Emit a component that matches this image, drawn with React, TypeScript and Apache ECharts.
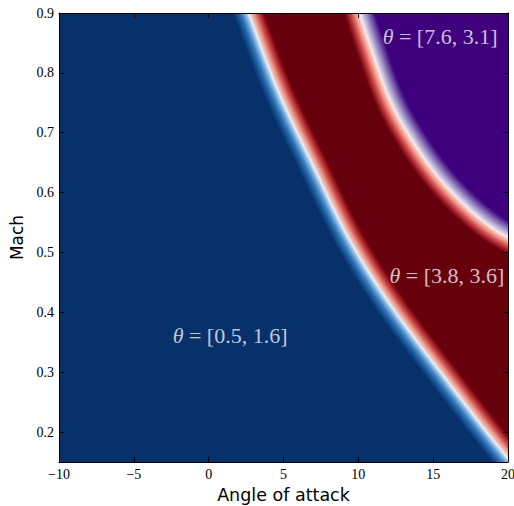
import React, { useEffect, useRef } from "react";
import * as echarts from "echarts";

// ---- data ----
const xTicks = [-10, -5, 0, 5, 10, 15, 20];
const yTicks = [0.2, 0.3, 0.4, 0.5, 0.6, 0.7, 0.8, 0.9];
const xRange = [-10, 20];
const yRange = [0.15, 0.9];

// decision boundary between class 1 (blue) and class 2 (red): [angle, mach]
const boundaryBlueRed = [
  [2.09, 0.938], [2.69, 0.9], [4.64, 0.771], [7.04, 0.643], [9.44, 0.521],
  [12.18, 0.412], [15.92, 0.287], [19.73, 0.165], [21.47, 0.12],
];
// decision boundary between class 2 (red) and class 3 (purple)
const boundaryRedPurple = [
  [9.84, 0.938], [10.11, 0.9], [10.91, 0.838], [12.12, 0.755], [13.59, 0.688],
  [15.26, 0.629], [17.13, 0.579], [18.8, 0.544], [20.13, 0.524], [21.8, 0.504],
];

const labelTexts = ["[0.5, 1.6]", "[3.8, 3.6]", "[7.6, 3.1]"];
const labelX = [1.43, 15.92, 15.46];
const labelY = [0.362, 0.462, 0.86];

// ---- styles ----
const BLUE = "#08306b";
const RED = "#67000d";
const PURPLE = "#3f007d";
const BAND_W = 15;
const blueRedStops: [number, string][] = [
  [-15, "#08306b"], [-12, "#0f4a8a"], [-8, "#2a6fb0"], [-5, "#5e97cc"],
  [-2, "#a8c8e4"], [0, "#eef0f4"], [2, "#f6c0b4"], [5, "#ec8f82"],
  [8, "#cf5050"], [12, "#9a1a22"], [15, "#67000d"],
];
const redPurpleStops: [number, string][] = [
  [-15, "#67000d"], [-12, "#9a1a22"], [-8, "#cf5050"], [-5, "#ec8f82"],
  [-2, "#f6c0b4"], [0, "#f2eef4"], [2, "#d8d0e8"], [5, "#b0a3d2"],
  [8, "#8a74b8"], [12, "#5e309a"], [15, "#3f007d"],
];

function hexToRgb(h: string) {
  const n = parseInt(h.slice(1), 16);
  return [(n >> 16) & 255, (n >> 8) & 255, n & 255];
}
function rampColor(stops: [number, string][], d: number) {
  if (d <= stops[0][0]) return stops[0][1];
  for (let i = 0; i < stops.length - 1; i++) {
    const [d0, c0] = stops[i];
    const [d1, c1] = stops[i + 1];
    if (d >= d0 && d <= d1) {
      const t = (d - d0) / (d1 - d0);
      const a = hexToRgb(c0), b = hexToRgb(c1);
      const c = a.map((v, j) => Math.round(v + (b[j] - v) * t));
      return `rgb(${c[0]},${c[1]},${c[2]})`;
    }
  }
  return stops[stops.length - 1][1];
}

// smooth the pixel-space outline for drawing (like a line's smooth option)
function smoothPath(pts: number[][], n = 12) {
  const out: number[][] = [];
  for (let i = 0; i < pts.length - 1; i++) {
    const p0 = pts[Math.max(i - 1, 0)], p1 = pts[i], p2 = pts[i + 1];
    const p3 = pts[Math.min(i + 2, pts.length - 1)];
    for (let k = 0; k < n; k++) {
      const t = k / n, t2 = t * t, t3 = t2 * t;
      out.push([0, 1].map((j) =>
        0.5 * (2 * p1[j] + (-p0[j] + p2[j]) * t +
          (2 * p0[j] - 5 * p1[j] + 4 * p2[j] - p3[j]) * t2 +
          (-p0[j] + 3 * p1[j] - 3 * p2[j] + p3[j]) * t3)));
    }
  }
  out.push(pts[pts.length - 1]);
  return out;
}
function offsetPath(pts: number[][], d: number) {
  return pts.map((p, i) => {
    const a = pts[Math.max(i - 2, 0)], b = pts[Math.min(i + 2, pts.length - 1)];
    const dx = b[0] - a[0], dy = b[1] - a[1];
    const len = Math.hypot(dx, dy) || 1;
    return [p[0] + (d * dy) / len, p[1] - (d * dx) / len];
  });
}

const fmtX = (v: number) => (v < 0 ? "\u2212" + Math.abs(v) : String(v));
const fmtY = (v: number) => v.toFixed(1);

export default function App() {
  const ref = useRef<HTMLDivElement>(null);
  useEffect(() => {
    if (!ref.current) return;
    const chart = echarts.init(ref.current, null, { renderer: "svg" });

    const renderItem = (params: any, api: any) => {
      const cs = params.coordSys;
      const L = cs.x, T = cs.y, R = cs.x + cs.width;
      const b1 = smoothPath(boundaryBlueRed.map((p) => api.coord(p)));
      const b2 = smoothPath(boundaryRedPurple.map((p) => api.coord(p)));
      const children: any[] = [];
      children.push({ type: "rect", shape: { x: L, y: T, width: cs.width, height: cs.height }, style: { fill: BLUE } });
      const poly = (b: number[][]) => [
        ...b,
        [R + 80, b[b.length - 1][1]],
        [R + 80, T - 80],
        [b[0][0], T - 80],
      ];
      children.push({ type: "polygon", shape: { points: poly(b1) }, style: { fill: RED } });
      children.push({ type: "polygon", shape: { points: poly(b2) }, style: { fill: PURPLE } });
      const band = (b: number[][], stops: [number, string][]) => {
        for (let d = -BAND_W; d <= BAND_W; d += 1) {
          children.push({
            type: "polyline",
            shape: { points: offsetPath(b, d) },
            style: { stroke: rampColor(stops, d), lineWidth: 1.7, fill: null },
          });
        }
      };
      band(b1, blueRedStops);
      band(b2, redPurpleStops);
      return { type: "group", children };
    };

    const serif = "'Liberation Serif', 'DejaVu Serif', serif";
    const sans = "'DejaVu Sans', sans-serif";
    const axisLine = { show: true, onZero: false, lineStyle: { color: "#000", width: 1 } };
    const tick = { show: true, inside: true, length: 5, lineStyle: { color: "#000", width: 1 } };

    chart.setOption({
      animation: false,
      backgroundColor: "#fff",
      grid: { left: 59, top: 13, width: 449, height: 449, containLabel: false, outerBoundsMode: "none" },
      xAxis: [
        {
          type: "value", min: xRange[0], max: xRange[1], interval: 5, position: "bottom", z: 10,
          axisLine, axisTick: tick, splitLine: { show: false },
          axisLabel: { formatter: fmtX, fontFamily: serif, fontSize: 14, color: "#000", margin: 5 },
          name: "Angle of attack", nameLocation: "middle", nameGap: 20,
          nameTextStyle: { fontFamily: sans, fontSize: 17.5, color: "#000" },
        },
        {
          type: "value", min: xRange[0], max: xRange[1], interval: 5, position: "top", z: 10,
          axisLine, axisTick: tick, splitLine: { show: false }, axisLabel: { show: false },
        },
      ],
      yAxis: [
        {
          type: "value", min: yRange[0], max: yRange[1], position: "left", z: 10,
          axisLine, axisTick: { ...tick, customValues: yTicks }, splitLine: { show: false },
          axisLabel: { customValues: yTicks, formatter: fmtY, fontFamily: serif, fontSize: 14, color: "#000", margin: 5 },
          name: "Mach", nameLocation: "middle", nameGap: 25,
          nameTextStyle: { fontFamily: sans, fontSize: 17, color: "#000" },
        },
        {
          type: "value", min: yRange[0], max: yRange[1], position: "right", z: 10,
          axisLine, axisTick: { ...tick, customValues: yTicks }, splitLine: { show: false },
          axisLabel: { show: false, customValues: yTicks },
        },
      ],
      series: [
        {
          type: "custom", xAxisIndex: 0, yAxisIndex: 0, clip: true, z: 1,
          data: [[xRange[0], yRange[0]]],
          renderItem,
          silent: true,
        },
        {
          type: "scatter", xAxisIndex: 0, yAxisIndex: 0, z: 5, silent: true,
          symbolSize: 1, itemStyle: { color: "rgba(0,0,0,0)" },
          data: labelTexts.map((t, i) => ({ value: [labelX[i], labelY[i]], name: t })),
          label: {
            show: true, position: "inside",
            formatter: (p: any) => "{i|\u03b8} = " + p.name,
            fontFamily: serif, fontSize: 22, color: "#f2f2f2",
            rich: { i: { fontFamily: serif, fontSize: 22, fontStyle: "italic", color: "#f2f2f2" } },
          },
        },
      ],
    });
    return () => chart.dispose();
  }, []);
  return <div ref={ref} style={{ position: "absolute", left: 0, top: 0, width: 514, height: 506 }} />;
}
